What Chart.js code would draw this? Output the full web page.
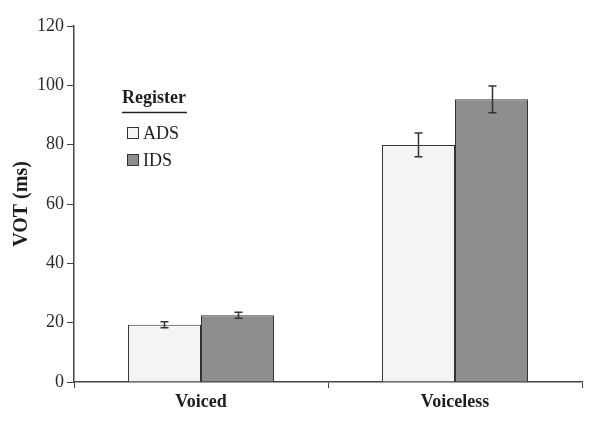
<!DOCTYPE html>
<html>
<head>
<meta charset="utf-8">
<script src="https://cdn.jsdelivr.net/npm/chart.js@4"></script>
<style>
html,body{margin:0;padding:0;background:#fff;}
#wrap{width:601px;height:427px;position:relative;}
</style>
</head>
<body>
<div id="wrap"><canvas id="c"></canvas></div>
<script>
const categories = ["Voiced", "Voiceless"];
const seriesNames = ["ADS", "IDS"];
const adsValues = [19.3, 79.9];
const idsValues = [22.5, 95.3];
const adsErrors = [1.0, 4.0];
const idsErrors = [1.0, 4.5];
const yTicks = [0, 20, 40, 60, 80, 100, 120];
const legendTitle = "Register";
const yTitle = "VOT (ms)";

const fills = ["#f3f4f3", "#8d8e90"];
const SERIF = "'Liberation Serif', 'Times New Roman', serif";

const errorBarPlugin = {
  id: 'errorBars',
  afterDatasetsDraw(chart) {
    const ctx = chart.ctx;
    const y = chart.scales.y;
    const errs = [adsErrors, idsErrors];
    ctx.save();
    ctx.strokeStyle = '#333';
    ctx.lineWidth = 1.5;
    chart.data.datasets.forEach((ds, di) => {
      const meta = chart.getDatasetMeta(di);
      meta.data.forEach((bar, i) => {
        const v = ds.data[i], e = errs[di][i];
        const x = Math.round(bar.x) + 0.5;
        const yt = y.getPixelForValue(v + e);
        const yb = y.getPixelForValue(v - e);
        const cap = 4;
        ctx.beginPath();
        ctx.moveTo(x, yt); ctx.lineTo(x, yb);
        ctx.moveTo(x - cap, yt); ctx.lineTo(x + cap, yt);
        ctx.moveTo(x - cap, yb); ctx.lineTo(x + cap, yb);
        ctx.stroke();
      });
    });
    ctx.restore();
  }
};

const legendPlugin = {
  id: 'customLegend',
  afterDraw(chart) {
    const ctx = chart.ctx;
    ctx.save();
    ctx.fillStyle = '#1e1e1e';
    ctx.textBaseline = 'middle';
    ctx.textAlign = 'left';
    ctx.font = "bold 18px " + SERIF;
    ctx.fillText(legendTitle, 122, 98);
    const w = ctx.measureText(legendTitle).width;
    ctx.strokeStyle = '#222';
    ctx.lineWidth = 1.5;
    ctx.beginPath();
    ctx.moveTo(122, 112.5); ctx.lineTo(122 + w + 1, 112.5);
    ctx.stroke();
    ctx.font = "18px " + SERIF;
    const rows = [133, 160];
    seriesNames.forEach((name, i) => {
      const cy = rows[i];
      ctx.fillStyle = fills[i];
      ctx.fillRect(127.5, cy - 5.5, 11, 11);
      ctx.strokeStyle = '#333';
      ctx.lineWidth = 1;
      ctx.strokeRect(127.5, cy - 5.5, 11, 11);
      ctx.fillStyle = '#1e1e1e';
      ctx.fillText(name, 143, cy + 1);
    });
    ctx.restore();
  }
};

new Chart(document.getElementById('c'), {
  type: 'bar',
  data: {
    labels: categories,
    datasets: [
      { label: seriesNames[0], data: adsValues, backgroundColor: fills[0], borderColor: '#333', borderWidth: 1 },
      { label: seriesNames[1], data: idsValues, backgroundColor: fills[1], borderColor: '#333', borderWidth: 1 }
    ]
  },
  options: {
    responsive: true,
    maintainAspectRatio: false,
    animation: false,
    devicePixelRatio: 1,
    layout: { padding: { top: 26, right: 19, bottom: 0, left: 0 } },
    datasets: { bar: { categoryPercentage: 0.575, barPercentage: 1.0 } },
    plugins: { legend: { display: false }, tooltip: { enabled: false } },
    scales: {
      x: {
        offset: true,
        grid: { display: true, offset: true, drawOnChartArea: false, drawTicks: true, tickLength: 6, color: '#444', lineWidth: 1 },
        border: { display: true, color: '#444', width: 1.5 },
        ticks: { color: '#1e1e1e', font: { family: SERIF, size: 18, weight: 'bold' }, padding: 4 },
        afterFit(scale) { scale.height = 45; }
      },
      y: {
        min: 0, max: 120,
        afterBuildTicks(scale) { scale.ticks = yTicks.map(v => ({ value: v })); },
        grid: { display: true, drawOnChartArea: false, drawTicks: true, tickLength: 7, color: '#444', lineWidth: 1 },
        border: { display: true, color: '#444', width: 1.5 },
        ticks: { color: '#2a2a2a', font: { family: SERIF, size: 18 }, padding: 3 },
        title: { display: true, text: yTitle, color: '#1e1e1e', font: { family: SERIF, size: 20, weight: 'bold' }, padding: { top: 10, bottom: 0 } },
        afterFit(scale) { scale.width = 74; }
      }
    }
  },
  plugins: [errorBarPlugin, legendPlugin]
});
</script>
</body>
</html>
